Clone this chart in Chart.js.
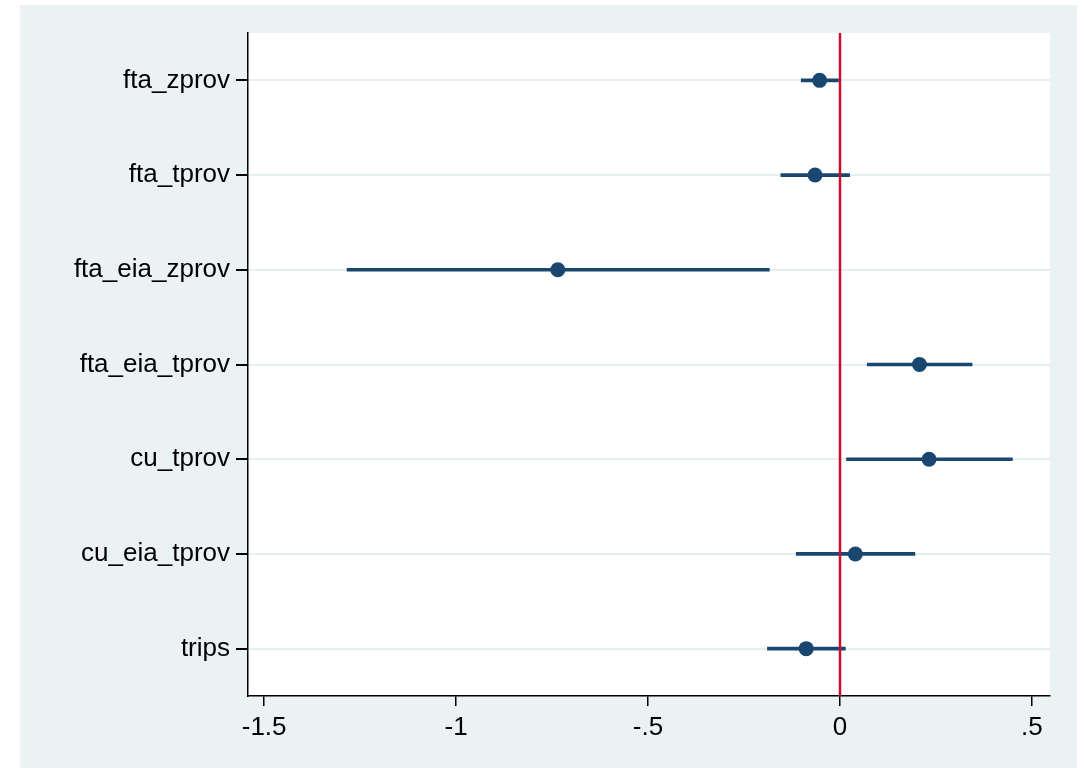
<!DOCTYPE html>
<html>
<head>
<meta charset="utf-8">
<script src="https://cdn.jsdelivr.net/npm/chart.js@4.4.1/dist/chart.umd.min.js"></script>
<style>
  html, body { margin: 0; padding: 0; background: #fff; }
  #wrap { width: 1084px; height: 768px; }
</style>
</head>
<body>
<div id="wrap"><canvas id="coefChart" width="1084" height="768"></canvas></div>
<script>
const variables = ['fta_zprov', 'fta_tprov', 'fta_eia_zprov', 'fta_eia_tprov', 'cu_tprov', 'cu_eia_tprov', 'trips'];
const estimates = [-0.053, -0.065, -0.735, 0.207, 0.232, 0.040, -0.088];
const ciLower = [-0.101, -0.154, -1.284, 0.071, 0.017, -0.114, -0.189];
const ciUpper = [-0.004, 0.025, -0.184, 0.344, 0.449, 0.195, 0.014];
const xTicks = [-1.5, -1, -0.5, 0, 0.5];

const navy = '#1a476f';
const bgColor = '#eaf2f3';

// outer grey-blue frame and white plot region
const backdrop = {
  id: 'backdrop',
  beforeDraw(chart) {
    const c = chart.ctx, a = chart.chartArea;
    c.save();
    c.fillStyle = '#fff';
    c.fillRect(0, 0, chart.width, chart.height);
    c.fillStyle = bgColor;
    c.fillRect(20, 5, 1057, 763);
    c.fillStyle = '#fff';
    c.fillRect(a.left, a.top, a.right - a.left, a.bottom - a.top);
    c.restore();
  }
};

// red reference line at zero
const zeroLine = {
  id: 'zeroLine',
  afterDatasetsDraw(chart) {
    const c = chart.ctx, a = chart.chartArea;
    const x = chart.scales.x.getPixelForValue(0);
    c.save();
    c.strokeStyle = '#c8102e';
    c.lineWidth = 2.5;
    c.beginPath();
    c.moveTo(x, a.top);
    c.lineTo(x, a.bottom);
    c.stroke();
    c.restore();
  }
};

const ctx = document.getElementById('coefChart');
new Chart(ctx, {
  data: {
    labels: variables,
    datasets: [{
      type: 'bar',
      data: variables.map((v, i) => [ciLower[i], ciUpper[i]]),
      backgroundColor: navy,
      barThickness: 3,
      borderSkipped: false
    }, {
      type: 'line',
      data: variables.map((v, i) => ({ x: estimates[i], y: v })),
      showLine: false,
      pointRadius: 7.5,
      pointBackgroundColor: navy,
      pointBorderColor: navy,
      pointBorderWidth: 0
    }]
  },
  options: {
    indexAxis: 'y',
    responsive: false,
    animation: false,
    layout: { padding: { left: 0, top: 33, right: 34, bottom: 0 } },
    plugins: { legend: { display: false }, tooltip: { enabled: false } },
    scales: {
      x: {
        type: 'linear',
        min: -1.542,
        max: 0.547,
        afterBuildTicks: s => { s.ticks = xTicks.map(v => ({ value: v })); },
        afterFit: s => { s.height = 72; },
        border: { color: '#000', width: 1.5 },
        grid: { drawOnChartArea: false, tickColor: '#000', tickLength: 10, lineWidth: 1.5 },
        ticks: {
          color: '#000',
          padding: 6,
          maxRotation: 0,
          font: { family: 'Liberation Sans', size: 26 },
          callback: v => v === 0 ? '0' : String(v).replace('0.', '.')
        }
      },
      y: {
        type: 'category',
        offset: true,
        afterFit: s => { s.width = 248; },
        border: { color: '#000', width: 1.5 },
        grid: { color: '#e6eef0', lineWidth: 2, tickColor: '#000', tickLength: 12, offset: false },
        ticks: {
          color: '#000',
          padding: 6,
          font: { family: 'Liberation Sans', size: 26 }
        }
      }
    }
  },
  plugins: [backdrop, zeroLine]
});
</script>
</body>
</html>
